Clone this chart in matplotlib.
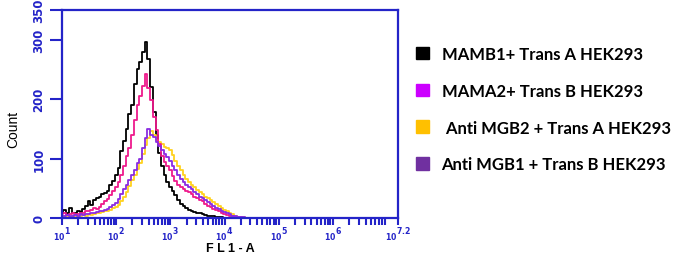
import numpy as np
import matplotlib
matplotlib.use("Agg")
import matplotlib.pyplot as plt
from matplotlib.patches import Patch
from matplotlib.ticker import FixedLocator, NullFormatter

# log10 channel centres (FL1-A)
log_channels = np.round(np.arange(1.0, 4.501, 0.05), 2)

black_counts = [8,14,9,16,8,9,12,10,15,20,
                28,22,30,34,36,40,42,46,55,62,
                72,84,112,130,150,175,190,225,250,262,
                280,296,268,220,178,140,110,88,72,60,
                52,45,38,30,24,20,17,14,12,10,
                9,8,7,5,4,3,3,2,1,1,
                0,0,0,0,0,0,0,0,0,0,
                0]
magenta_counts = [6,8,5,6,8,6,7,9,8,11,
                  12,14,16,15,18,24,28,32,38,45,
                  52,60,72,88,105,118,140,165,190,205,
                  222,242,218,198,170,148,125,104,95,88,
                  80,70,62,56,52,48,46,44,40,36,
                  34,31,28,24,21,18,15,13,11,9,
                  7,5,4,3,2,1,1,0,0,0,
                  0]
purple_counts = [4,3,5,3,4,5,4,6,5,7,
                 6,8,9,10,11,12,14,15,18,22,
                 26,32,40,48,56,64,72,80,92,100,
                 118,135,150,140,136,128,121,114,108,102,
                 96,88,80,72,66,60,56,52,48,44,
                 40,36,33,30,27,24,20,17,15,12,
                 10,8,6,4,3,2,1,1,0,0,
                 0]
yellow_counts = [3,4,3,2,4,3,4,3,5,4,
                 6,5,7,8,9,10,11,12,14,16,
                 18,22,28,35,44,54,64,72,82,92,
                 108,122,135,146,140,132,128,124,120,118,
                 114,106,96,88,80,72,66,60,56,52,
                 47,44,40,36,33,30,27,24,20,17,
                 14,11,9,6,4,2,1,1,0,0,
                 0]

legend_labels = ["MAMB1+ Trans A HEK293", "MAMA2+ Trans B HEK293",
                 " Anti MGB2 + Trans A HEK293", "Anti MGB1 + Trans B HEK293"]
legend_colors = ["#000000", "#CC00FF", "#FFC000", "#7030A0"]
line_colors = {"black": "#000000", "magenta": "#EE1A8C",
               "yellow": "#FFD21F", "purple": "#8A2BE2"}

y_ticks = [0, 100, 200, 300, 350]
x_major_exp = [1, 2, 3, 4, 5, 6, 7.2]
x_major_labels = ["1", "2", "3", "4", "5", "6", "7.2"]

blue = "#2424C8"

fig = plt.figure(figsize=(6.85, 2.55), dpi=100)
ax = fig.add_axes([0.0905, 0.1412, 0.4905, 0.816])

x = 10.0 ** log_channels
ax.step(x, black_counts, where="mid", color=line_colors["black"], lw=1.3)
ax.step(x, yellow_counts, where="mid", color=line_colors["yellow"], lw=1.3)
ax.step(x, magenta_counts, where="mid", color=line_colors["magenta"], lw=1.3)
ax.step(x, purple_counts, where="mid", color=line_colors["purple"], lw=1.3)

ax.set_xscale("log")
ax.set_xlim(10 ** 1, 10 ** 7.2)
ax.set_ylim(0, 350)

for s in ax.spines.values():
    s.set_color(blue)
    s.set_linewidth(1.6)

ax.set_yticks(y_ticks)
ax.set_yticklabels([str(v) for v in y_ticks], rotation=90, va="center",
                   color=blue, fontsize=8.5, fontweight="bold",
                   family="Liberation Sans Narrow")
ax.tick_params(axis="y", direction="out", length=9, width=1.5, color=blue, pad=3)

major = [10.0 ** e for e in x_major_exp]
ax.xaxis.set_major_locator(FixedLocator(major))
ax.set_xticklabels([r"$\mathregular{_{10}{^{%s}}}$" % l for l in x_major_labels],
                   color=blue, fontsize=8, fontweight="bold")
minor = [m * 10.0 ** d for d in range(1, 7) for m in range(2, 10) if m * 10.0 ** d < 10 ** 7.2]
ax.xaxis.set_minor_locator(FixedLocator(minor))
ax.xaxis.set_minor_formatter(NullFormatter())
ax.tick_params(axis="x", which="both", direction="out", length=5, width=1.5,
               color=blue, pad=0)

ax.set_ylabel("Count", fontsize=10, family="Liberation Sans")
ax.yaxis.set_label_coords(-0.125, 0.43)
ax.set_xlabel("F L 1 - A", fontsize=9, family="Liberation Sans", fontweight="bold",
              va="center")
ax.xaxis.set_label_coords(0.5, -0.142)

handles = [Patch(facecolor=c, edgecolor=c) for c in legend_colors]
fig.legend(handles, legend_labels, loc="upper left", bbox_to_anchor=(0.585, 0.875),
           frameon=False, handlelength=0.8, handleheight=0.8, handletextpad=0.75,
           labelspacing=1.25, prop={"family": "Lato", "weight": "bold", "size": 12})

fig.savefig("out.png", dpi=100)
